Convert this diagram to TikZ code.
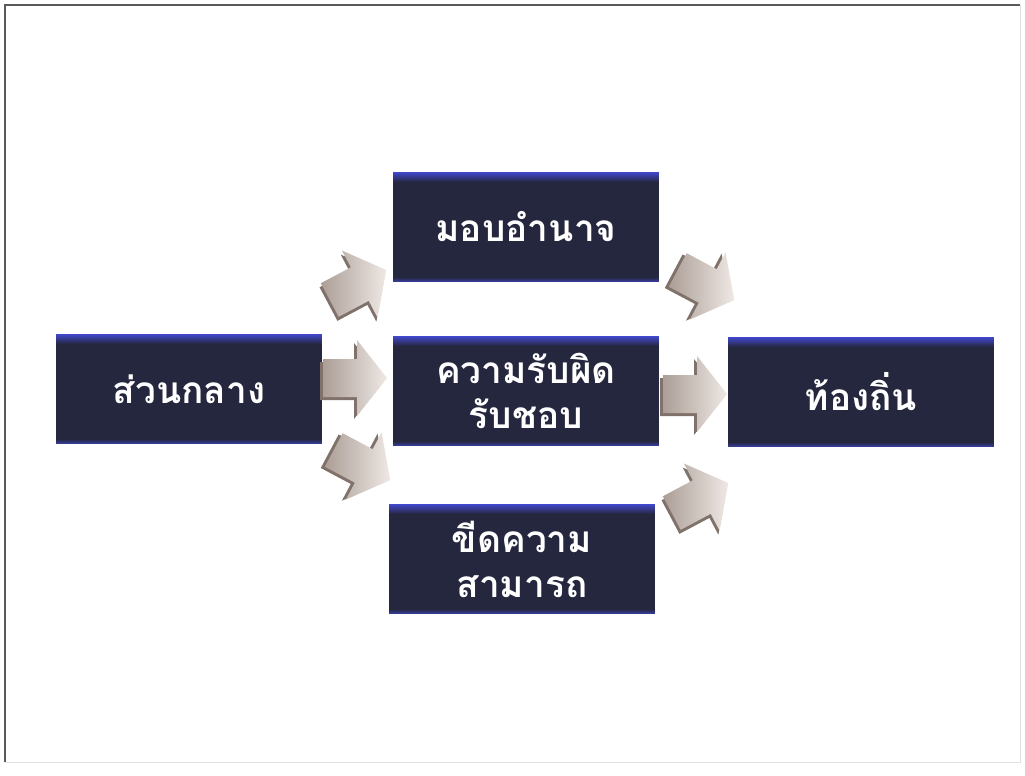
\documentclass[tikz,border=0pt]{standalone}
\usepackage{fontspec}
\newfontfamily\thaifont[Script=Thai]{Loma}
\definecolor{boxnavy}{RGB}{37,39,62}
\definecolor{boxblue}{RGB}{66,72,205}
\definecolor{arrowlight}{RGB}{238,232,228}
\definecolor{arrowdark}{RGB}{172,158,151}
\definecolor{arrowside}{RGB}{128,114,107}
\tikzset{
  stagebox/.style={rectangle,fill=boxnavy,minimum width=266pt,minimum height=110pt,
    inner sep=0pt,text=white,align=center,
    font=\thaifont\bfseries\fontsize{37}{45}\selectfont,
    path picture={
      \foreach \i [evaluate=\i as \p using 100-\i*10] in {0,...,9}
        \fill[boxblue!\p!boxnavy] ([yshift=-\i pt]path picture bounding box.north west)
          rectangle ([yshift=-\i pt-1.1pt]path picture bounding box.north east);
      \foreach \i [evaluate=\i as \p using 60-\i*15] in {0,...,3}
        \fill[boxblue!\p!boxnavy] ([yshift=\i pt]path picture bounding box.south west)
          rectangle ([yshift=\i pt+1.1pt]path picture bounding box.south east);}},
  blockarrow/.pic={
    \fill[arrowside] (-35,-16) -- (-1,-16) -- (-1,-35) -- (29,3) -- (-1,41) -- (-1,22) -- (-35,22) -- cycle;
    \shade[left color=arrowdark,right color=arrowlight]
      (-32,-19) -- (2,-19) -- (2,-38) -- (32,0) -- (2,38) -- (2,19) -- (-32,19) -- cycle;
  }
}
\begin{document}
\begin{tikzpicture}[x=1pt,y=-1pt]
  \useasboundingbox (0,0) rectangle (1025,776);

  % frame
  \draw[black!65,line width=1.3pt] (5,762) -- (5,5) -- (1020,5);
  \draw[black!12,line width=1pt] (1020,5) -- (1020,762) -- (5,762);

  \begin{scope}[every node/.style={stagebox}]
    \node (central)  at (189,389) {ส่วนกลาง};
    \node (delegate) at (526,227) {มอบอำนาจ};
    \node (resp)     at (526,391) {ความรับผิด\\รับชอบ};
    \node (local)    at (861,392) {ท้องถิ่น};
    \node (capacity) at (522,559) {ขีดความ\\สามารถ};
  \end{scope}

  % arrows
  \pic[rotate=28]  at (358,285) {blockarrow};
  \pic             at (355,378) {blockarrow};
  \pic[rotate=-28] at (362,465) {blockarrow};
  \pic[rotate=-28] at (706,285) {blockarrow};
  \pic             at (695,394) {blockarrow};
  \pic[rotate=28]  at (700,498) {blockarrow};

\end{tikzpicture}
\end{document}
